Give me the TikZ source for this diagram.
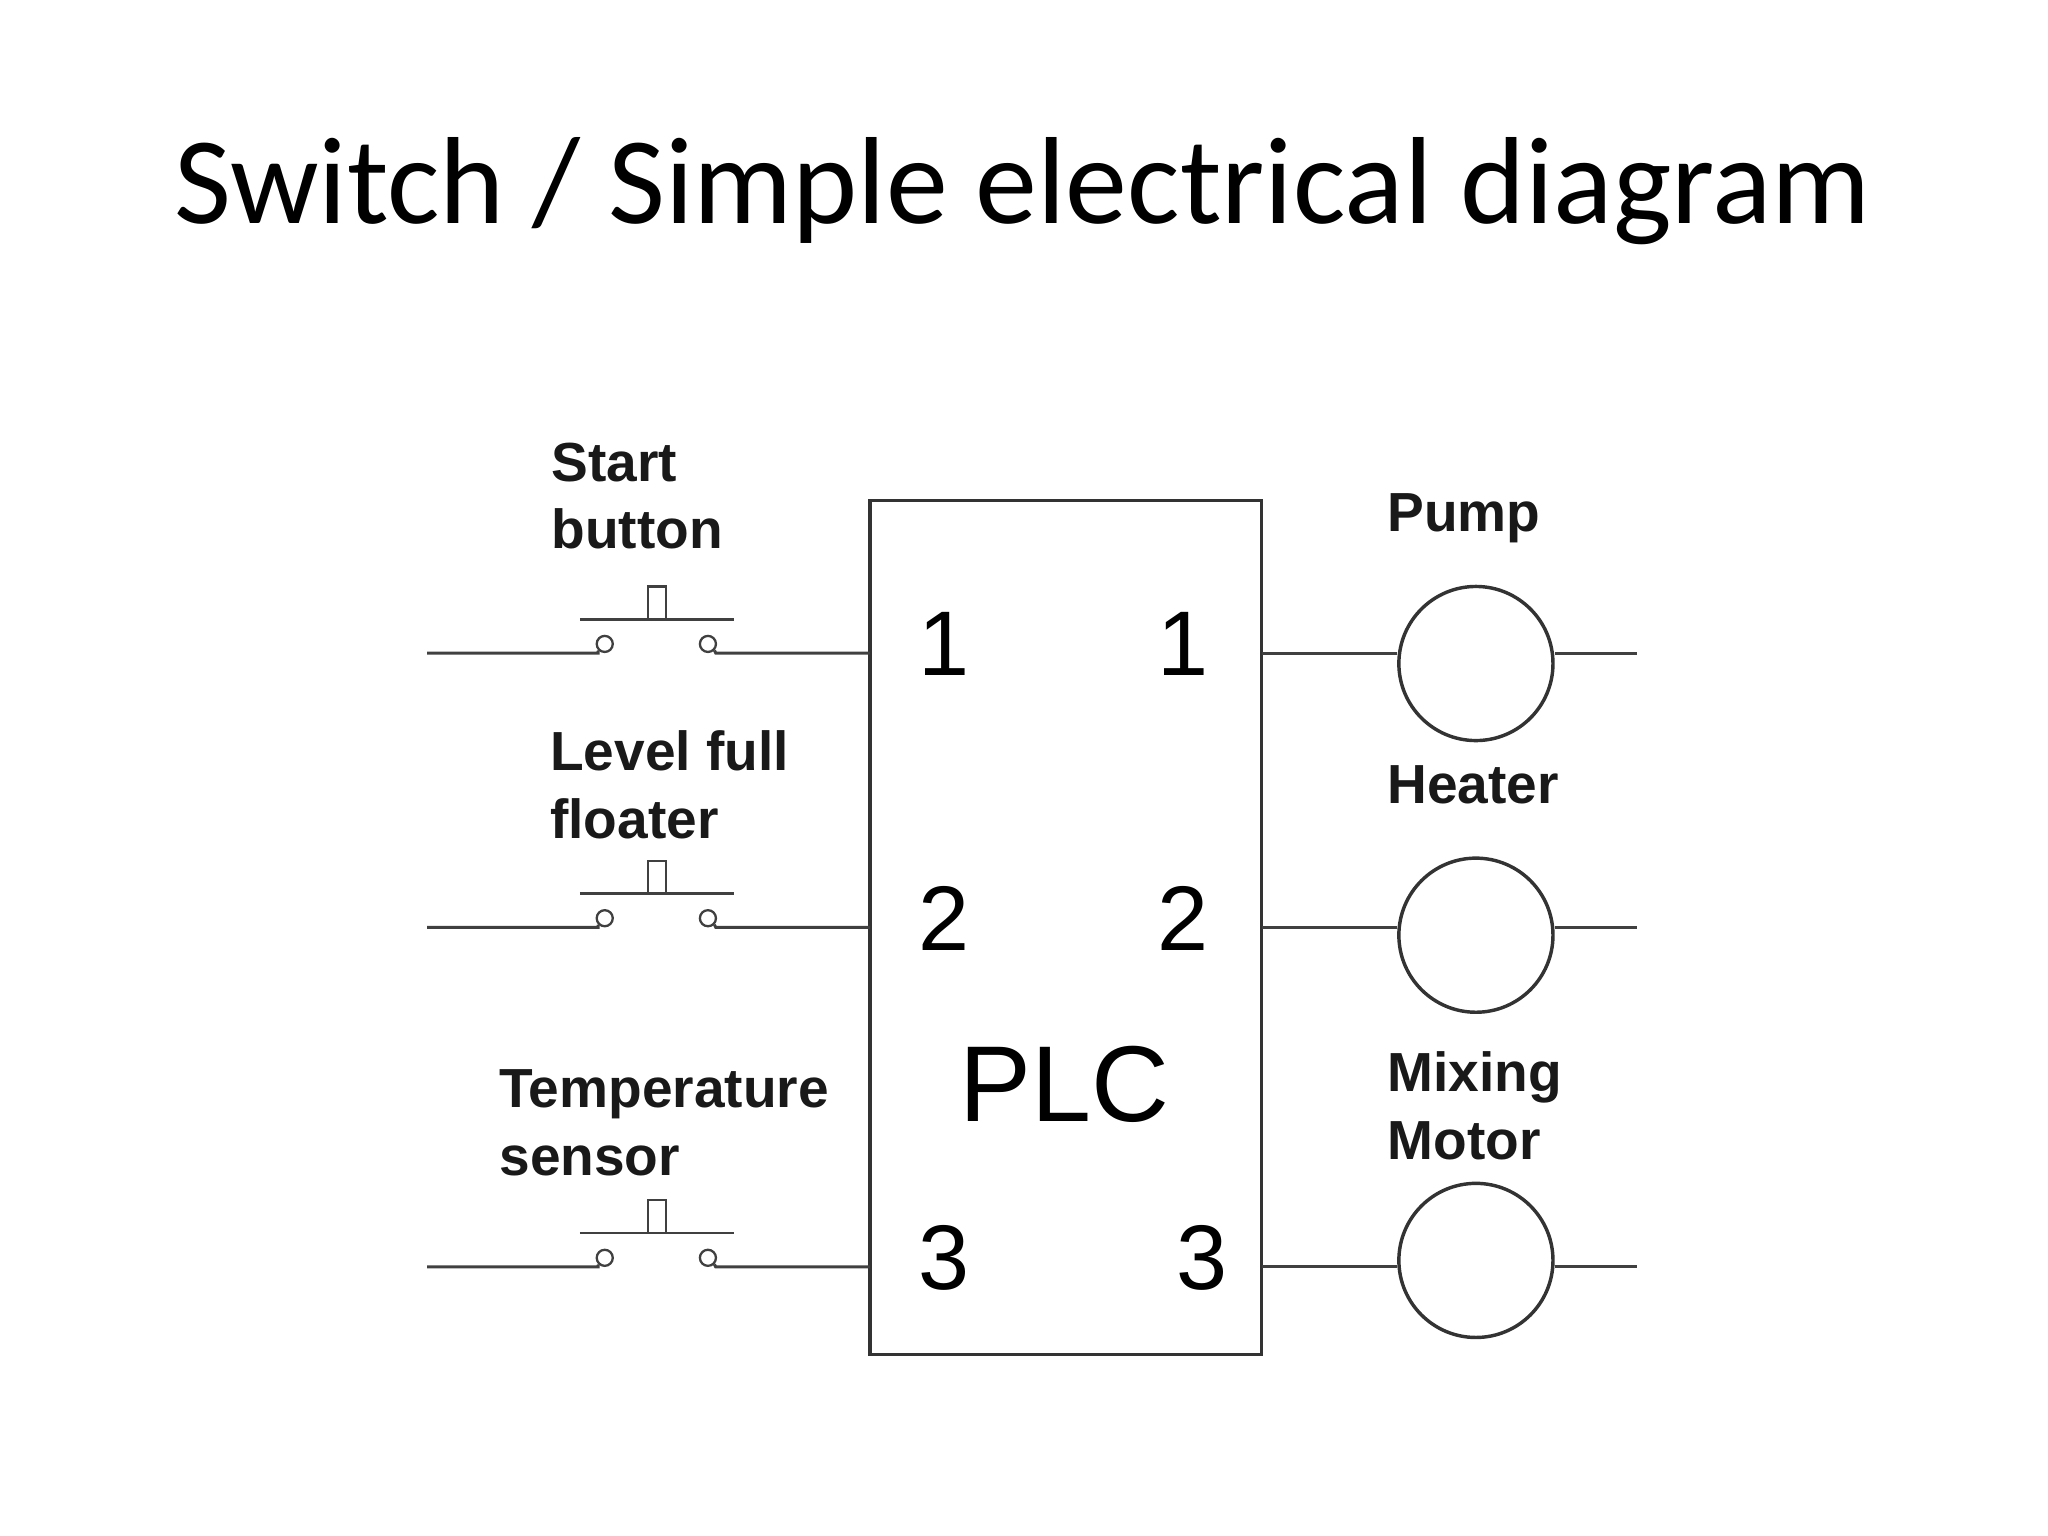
\documentclass[tikz,border=0pt]{standalone}
\usepackage{fontspec}
\setmainfont{Liberation Sans}
\newfontfamily\titlefont{Carlito}
\begin{document}
\begin{tikzpicture}[x=0.02cm,y=-0.02cm,
  wire/.style={line width=1.3pt,draw=black!75},
  lbl/.style={anchor=base west,inner sep=0,font=\fontsize{24}{28}\selectfont\bfseries,text=black!90},
  num/.style={inner sep=0,font=\fontsize{40}{44}\selectfont},
  term/.style={circle,draw=black!75,line width=1pt,minimum size=7pt,inner sep=0},
  load/.style={circle,draw=black!80,line width=1.5pt,minimum size=118*0.02cm,inner sep=0}]
\useasboundingbox (0,0) rectangle (1568,1176);
\node[font=\titlefont\fontsize{54}{58}\selectfont] (title) at (783,146) {Switch / Simple electrical diagram};
\node[draw=black!80,line width=1.5pt,minimum width=300*0.02cm,minimum height=654*0.02cm,inner sep=0] (plc) at (816,710) {};
\node[num,font=\fontsize{47}{50}\selectfont] (plct) at (815,830) {PLC};
\foreach \i/\y/\xr/\cy in {1/500/906/508,2/710/906/716,3/970/920/965}{
  \node[num] (nl\i) at (723,\y-7) {\i};
  \node[num] (nr\i) at (\xr,\y-7) {\i};
  \coordinate (ls\i) at (327,\y);
  \coordinate (la\i) at (458,\y);
  \coordinate (lb\i) at (548,\y);
  \coordinate (pl\i) at (666,\y);
  \coordinate (pr\i) at (966,\y);
  \coordinate (re\i) at (1253,\y);
  \node[term] (ta\i) at (463,\y-7) {};
  \node[term] (tb\i) at (542,\y-7) {};
  \draw[wire] (ls\i) -- (la\i) -- (ta\i.south west);
  \draw[wire] (tb\i.south east) -- (lb\i) -- (pl\i);
  \coordinate (ba\i) at (444,\y-26);
  \coordinate (bb\i) at (562,\y-26);
  \draw[wire] (ba\i) -- (bb\i);
  \draw[wire,line width=1pt] (496,\y-26) rectangle (510,\y-51);
  \node[load] (ld\i) at (1130,\cy) {};
  \draw[wire] (pr\i) -- (ld\i.west |- pr\i);
  \draw[wire] (ld\i.east |- pr\i) -- (re\i);
}
\node[lbl] (s1) at (422,369) {Start};
\node[lbl] (s2) at (422,420) {button};
\node[lbl] (l1) at (421,590) {Level full};
\node[lbl] (l2) at (421,642) {floater};
\node[lbl] (t1) at (382,848) {Temperature};
\node[lbl] (t2) at (382,900) {sensor};
\node[lbl] (p1) at (1062,407) {Pump};
\node[lbl] (h1) at (1062,615) {Heater};
\node[lbl] (m1) at (1062,836) {Mixing};
\node[lbl] (m2) at (1062,888) {Motor};
\end{tikzpicture}
\end{document}
